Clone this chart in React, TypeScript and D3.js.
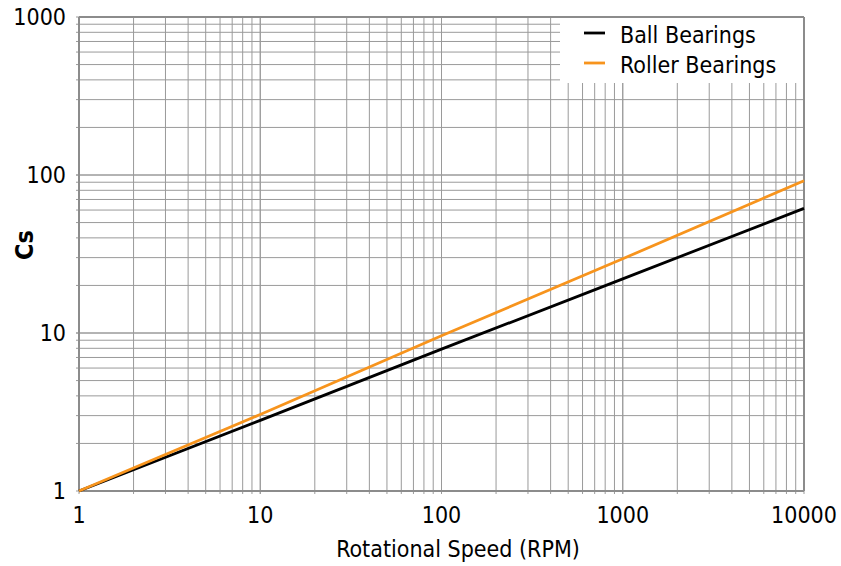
import React from "react";
import * as d3 from "d3";

const speeds = [1, 10, 100, 1000, 10000];
const ballBearings = [1, 2.8, 7.9, 22, 61.5];
const rollerBearings = [1, 3.05, 9.6, 29.5, 92];
const xTicks = [1, 10, 100, 1000, 10000];
const yTicks = [1, 10, 100, 1000];
const seriesNames = ["Ball Bearings", "Roller Bearings"];
const seriesColors = ["#000000", "#f7941d"];

const W = 841, H = 566;
const M = { left: 79, right: 37, top: 17, bottom: 75 };
const FONT = "'DejaVu Sans Condensed', 'Liberation Sans Narrow', Arial, sans-serif";

export default function App() {
  const x = d3.scaleLog().domain([1, 10000]).range([M.left, W - M.right]);
  const y = d3.scaleLog().domain([1, 1000]).range([H - M.bottom, M.top]);
  const minorX: number[] = [];
  for (let d = 1; d < 10000; d *= 10) for (let k = 1; k <= 10; k++) minorX.push(d * k);
  const minorY: number[] = [];
  for (let d = 1; d < 1000; d *= 10) for (let k = 1; k <= 10; k++) minorY.push(d * k);
  const series = [ballBearings, rollerBearings];
  const line = d3.line<number>().x((_, i) => x(speeds[i])).y((v) => y(v));
  const x0 = x(1), x1 = x(10000), y0 = y(1), y1 = y(1000);
  const lgX = 560, lgY = M.top;
  return (
    <svg width={W} height={H} style={{ position: "absolute", left: 0, top: 0, background: "#fff" }} fontFamily={FONT}>
      <rect width={W} height={H} fill="#fff" />
      {minorX.map((v, i) => (
        <line key={"gx" + i} x1={x(v)} x2={x(v)} y1={y1} y2={y0 + 3} stroke="#9a9a9a" strokeWidth={1} />
      ))}
      {minorY.map((v, i) => (
        <line key={"gy" + i} x1={x0 - 3} x2={x1} y1={y(v)} y2={y(v)} stroke="#9a9a9a" strokeWidth={1} />
      ))}
      <rect x={lgX} y={lgY} width={x1 - lgX - 1} height={66} fill="#fff" />
      <line x1={x0} x2={x0} y1={y1} y2={y0} stroke="#8c8c8c" strokeWidth={2} />
      <line x1={x1} x2={x1} y1={y1} y2={y0} stroke="#8c8c8c" strokeWidth={2} />
      <line x1={x0} x2={x1} y1={y0} y2={y0} stroke="#8c8c8c" strokeWidth={2} />
      <line x1={x0} x2={x1} y1={y1} y2={y1} stroke="#8c8c8c" strokeWidth={2} />
      {series.map((s, i) => (
        <path key={"s" + i} d={line(s) || ""} fill="none" stroke={seriesColors[i]} strokeWidth={2.8} />
      ))}
      {xTicks.map((v) => (
        <text key={"xt" + v} x={x(v)} y={523} textAnchor="middle" fontSize={23} fill="#000">
          {v}
        </text>
      ))}
      {yTicks.map((v) => (
        <text key={"yt" + v} x={66} y={y(v) + 8} textAnchor="end" fontSize={23} fill="#000">
          {v}
        </text>
      ))}
      <text x={458} y={557} textAnchor="middle" fontSize={23} fill="#000">
        Rotational Speed (RPM)
      </text>
      <text transform={`translate(33, 245) rotate(-90)`} textAnchor="middle" fontSize={25} fontWeight="bold" fill="#000">
        Cs
      </text>
      {seriesNames.map((n, i) => (
        <g key={"lg" + i}>
          <line x1={584} x2={605} y1={33 + i * 30} y2={33 + i * 30} stroke={seriesColors[i]} strokeWidth={2.8} />
          <text x={620} y={43 + i * 30} fontSize={23} fill="#000">
            {n}
          </text>
        </g>
      ))}
    </svg>
  );
}
